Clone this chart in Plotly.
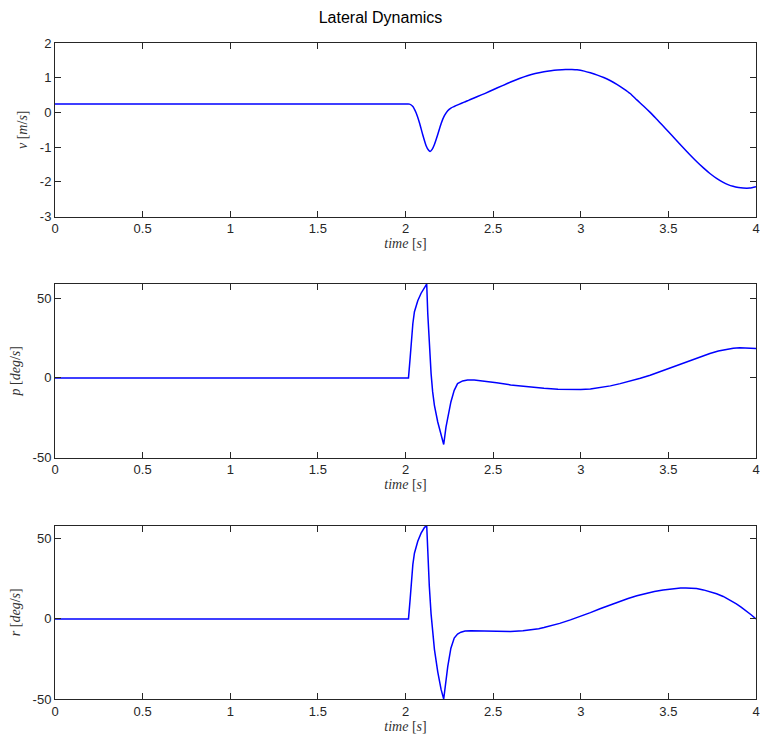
import plotly.graph_objects as go

# Lateral velocity v [m/s]
t_v = [0, 1.0, 1.95, 2.005, 2.023, 2.042, 2.061, 2.08, 2.098, 2.117, 2.131, 2.14, 2.152,
       2.165, 2.184, 2.203, 2.222, 2.241, 2.259, 2.278, 2.305, 2.335, 2.354, 2.37, 2.411,
       2.455, 2.5, 2.55, 2.6, 2.65, 2.695, 2.74, 2.79, 2.83, 2.866, 2.913, 2.95, 2.979,
       3.02, 3.055, 3.095, 3.131, 3.17, 3.206, 3.245, 3.282, 3.32, 3.358, 3.396, 3.434,
       3.465, 3.498, 3.54, 3.585, 3.62, 3.661, 3.7, 3.737, 3.775, 3.813, 3.84, 3.869, 3.9,
       3.926, 3.964, 4.0]
v = [0.24, 0.24, 0.24, 0.24, 0.238, 0.171, -0.019, -0.305, -0.638, -0.952, -1.086, -1.124,
     -1.067, -0.924, -0.638, -0.324, -0.095, 0.048, 0.124, 0.17, 0.23, 0.295, 0.334, 0.37,
     0.457, 0.55, 0.652, 0.765, 0.875, 0.975, 1.055, 1.12, 1.172, 1.203, 1.223, 1.238,
     1.237, 1.228, 1.19, 1.14, 1.075, 1.005, 0.913, 0.81, 0.68, 0.545, 0.36, 0.185, 0.0,
     -0.2, -0.365, -0.545, -0.775, -1.02, -1.205, -1.415, -1.6, -1.76, -1.9, -2.015, -2.08,
     -2.13, -2.165, -2.18, -2.18, -2.14]

# Roll rate p [deg/s]
t_p = [0, 2.017, 2.027, 2.032, 2.042, 2.051, 2.07, 2.089, 2.108, 2.121, 2.127, 2.136,
       2.146, 2.155, 2.165, 2.184, 2.203, 2.218, 2.231, 2.241, 2.259, 2.278, 2.297, 2.326,
       2.354, 2.392, 2.449, 2.52, 2.6, 2.7, 2.79, 2.87, 2.941, 3.0, 3.055, 3.11, 3.169,
       3.225, 3.282, 3.34, 3.396, 3.45, 3.509, 3.565, 3.623, 3.68, 3.737, 3.785, 3.831,
       3.87, 3.907, 3.95, 4.0]
p = [0, 0, 13.2, 22.7, 34.2, 41.6, 48.5, 53.2, 56.9, 59, 40.5, 19.5,
     2.7, -8.8, -17.2, -27.7, -35.5, -41.8, -30.9, -24.6, -15.1, -7.8, -3.6, -1.9,
     -1.3, -1.3, -1.9, -3.1, -4.4, -5.6, -6.5, -7.1, -7.4, -7.3, -6.9, -6.1, -5.0,
     -3.6, -2.1, -0.2, 1.7, 3.9, 6.3, 8.7, 11.1, 13.3, 15.3, 16.9, 18.1,
     18.7, 18.9, 18.8, 18.5]

# Yaw rate r [deg/s]
t_r = [0, 2.017, 2.027, 2.032, 2.042, 2.051, 2.07, 2.089, 2.108, 2.121, 2.127, 2.136,
       2.146, 2.155, 2.165, 2.184, 2.203, 2.218, 2.231, 2.241, 2.259, 2.278, 2.297, 2.316,
       2.34, 2.373, 2.449, 2.52, 2.6, 2.67, 2.714, 2.76, 2.79, 2.827, 2.88, 2.941, 3.0,
       3.055, 3.11, 3.168, 3.22, 3.27, 3.32, 3.37, 3.42, 3.47, 3.52, 3.57, 3.6, 3.625,
       3.661, 3.7, 3.737, 3.775, 3.813, 3.85, 3.888, 3.915, 3.945, 3.972, 4.0]
r = [0, 0, 13.0, 22.5, 34.0, 41.0, 48.5, 53.5, 57.0, 58.3, 40.0, 20.2,
     3.0, -9.5, -19.0, -33.0, -44.0, -50.0, -36.0, -29.8, -18.3, -12.0, -9.5, -8.3,
     -7.6, -7.4, -7.6, -7.8, -7.9, -7.4, -6.9, -6.1, -5.4, -4.4, -2.8, -0.6, 1.6,
     3.9, 6.3, 8.75, 10.9, 12.7, 14.4, 15.9, 17.1, 18.1, 18.8, 19.25, 19.35, 19.3,
     18.9, 18.1, 17.1, 15.7, 14.0, 11.9, 9.4, 7.4, 5.0, 2.6, 0]

x_ticks = [0, 0.5, 1, 1.5, 2, 2.5, 3, 3.5, 4]
x_tick_text = ["0", "0.5", "1", "1.5", "2", "2.5", "3", "3.5", "4"]

W, H = 761, 740
AX_COLOR = "#262626"
LINE_COLOR = "#0000ff"

# v is smooth throughout; p and r have sharp spikes, so they stay piecewise linear
panels = [
    dict(t=t_v, y=v, title="<i>v</i> [<i>m</i>/<i>s</i>]", yrange=[-3, 2],
         yticks=[-3, -2, -1, 0, 1, 2], top=43, bottom=216.5, shape="spline"),
    dict(t=t_p, y=p, title="<i>p</i> [<i>deg</i>/<i>s</i>]", yrange=[-50, 59],
         yticks=[-50, 0, 50], top=284, bottom=457.5, shape="linear"),
    dict(t=t_r, y=r, title="<i>r</i> [<i>deg</i>/<i>s</i>]", yrange=[-50, 58.3],
         yticks=[-50, 0, 50], top=525.5, bottom=699, shape="linear"),
]

fig = go.Figure()
layout = dict(
    width=W, height=H,
    margin=dict(l=0, r=0, t=0, b=0),
    paper_bgcolor="white", plot_bgcolor="white",
    showlegend=False,
    font=dict(family="Liberation Sans, Arial, sans-serif", size=13, color=AX_COLOR),
    title=dict(text="Lateral Dynamics", x=0.5, xanchor="center", y=1 - 17 / H,
               yanchor="middle", font=dict(size=16, color="black")),
)

x_dom = [55 / W, 756 / W]
serif = "Liberation Serif, Times New Roman, serif"

for i, pn in enumerate(panels, start=1):
    xa = "x" if i == 1 else f"x{i}"
    ya = "y" if i == 1 else f"y{i}"
    line = dict(color=LINE_COLOR, width=1.5, shape=pn["shape"])
    if pn["shape"] == "spline":
        line["smoothing"] = 0.6
    fig.add_trace(go.Scatter(x=pn["t"], y=pn["y"], mode="lines", xaxis=xa, yaxis=ya,
                             line=line, cliponaxis=True))
    common = dict(showline=True, linecolor=AX_COLOR, linewidth=1, mirror="allticks",
                  ticks="inside", ticklen=6, tickcolor=AX_COLOR, tickwidth=1,
                  showgrid=False, zeroline=False, ticklabeloverflow="allow",
                  automargin=False, tickfont=dict(size=13, color=AX_COLOR))
    layout["xaxis" if i == 1 else f"xaxis{i}"] = dict(
        domain=x_dom, anchor=ya, range=[0, 4], tickvals=x_ticks, ticktext=x_tick_text,
        title=dict(text="<i>time</i> [<i>s</i>]", standoff=2,
                   font=dict(family=serif, size=14, color="#333333")),
        **common)
    layout["yaxis" if i == 1 else f"yaxis{i}"] = dict(
        domain=[1 - pn["bottom"] / H, 1 - pn["top"] / H], anchor=xa,
        range=pn["yrange"], tickvals=pn["yticks"],
        ticktext=[str(tv) for tv in pn["yticks"]],
        title=dict(text=pn["title"], standoff=8,
                   font=dict(family=serif, size=14, color="#333333")),
        **common)

fig.update_layout(**layout)
fig.write_html("out.html")
